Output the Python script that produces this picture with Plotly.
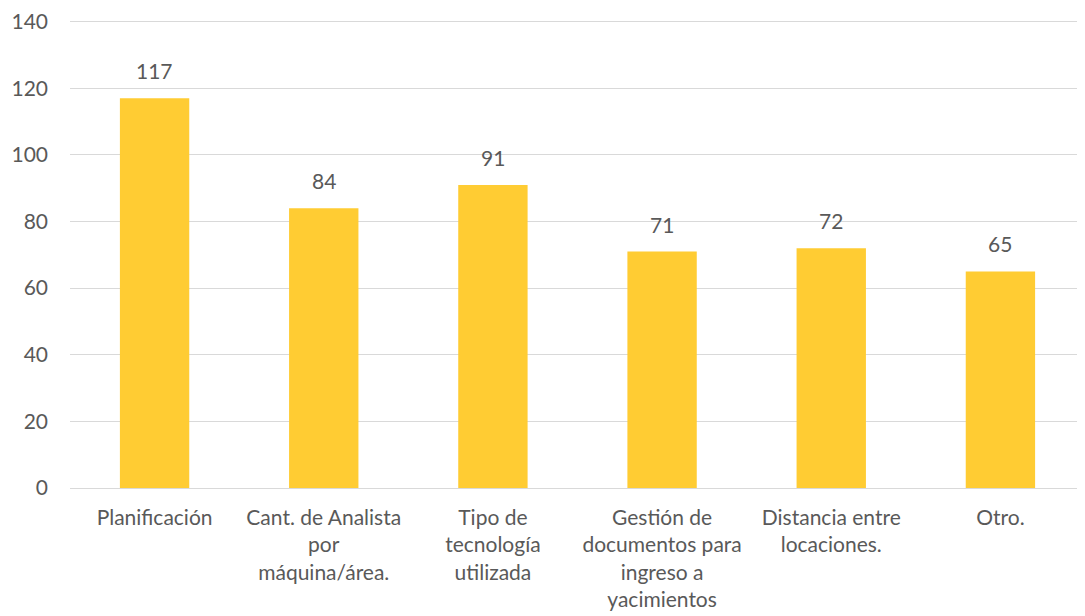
import plotly.graph_objects as go

categories = [
    "Planificación",
    "Cant. de Analista<br>por<br>máquina/área.",
    "Tipo de<br>tecnología<br>utilizada",
    "Gestión de<br>documentos para<br>ingreso a<br>yacimientos",
    "Distancia entre<br>locaciones.",
    "Otro.",
]
values = [117, 84, 91, 71, 72, 65]
y_ticks = [0, 20, 40, 60, 80, 100, 120, 140]

FONT = "Lato, Calibri, sans-serif"
TXT = "#595959"
FS = 21

fig = go.Figure()
fig.add_trace(go.Bar(
    x=categories, y=values,
    marker=dict(color="#FFCC33", line=dict(width=0)),
    hoverinfo="x+y",
))
for c, v in zip(categories, values):
    fig.add_annotation(x=c, y=v, text=str(v), showarrow=False,
                       yanchor="bottom", yshift=13,
                       font=dict(family=FONT, size=FS, color=TXT))

fig.update_layout(
    width=1077, height=608,
    margin=dict(l=62, r=0, t=7, b=128),
    paper_bgcolor="white", plot_bgcolor="white",
    bargap=0.59,
    showlegend=False,
    font=dict(family=FONT, size=FS, color=TXT),
)
fig.update_xaxes(showgrid=False, showline=False, ticks="",
                 tickfont=dict(family=FONT, size=FS, color=TXT),
                 ticklabelstandoff=15)
fig.update_yaxes(range=[0, 142], tickvals=y_ticks, showgrid=True,
                 gridcolor="#D9D9D9", gridwidth=1, zeroline=True,
                 zerolinecolor="#D9D9D9", zerolinewidth=1,
                 showline=False, ticks="",
                 tickfont=dict(family=FONT, size=FS, color=TXT),
                 ticklabelstandoff=21)

fig.write_html("out.html")
